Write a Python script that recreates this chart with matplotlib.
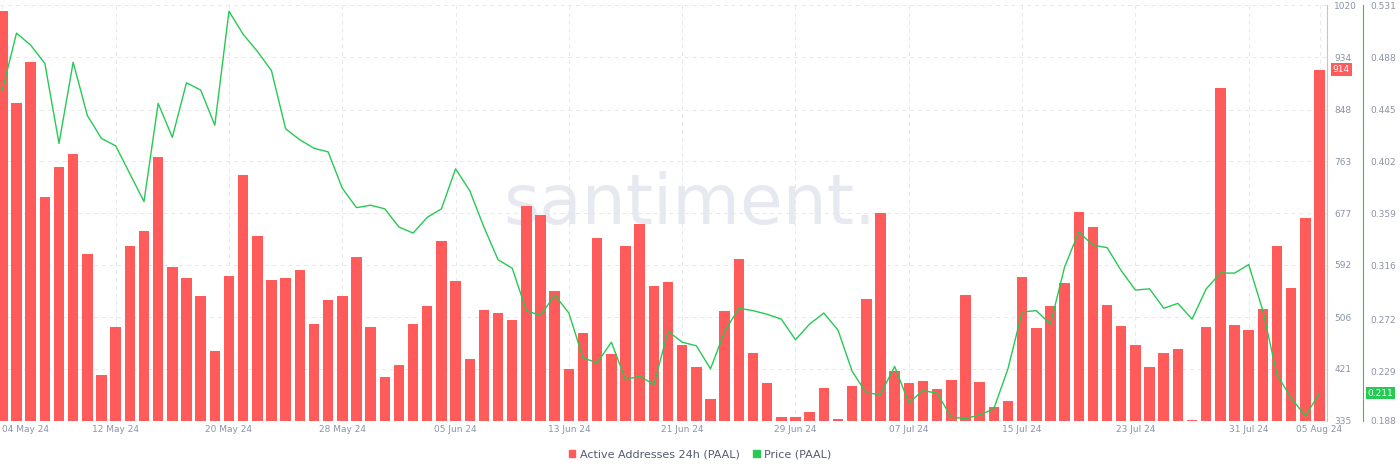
import pandas as pd
import matplotlib
matplotlib.use("Agg")
import matplotlib.pyplot as plt
import matplotlib.dates as mdates
from matplotlib.patches import Patch

dates = pd.date_range("2024-05-04", "2024-08-05", freq="D")

active_addresses = [
    1010, 859, 926, 704, 753, 775, 610, 411, 490, 623, 648, 770, 589, 571, 541, 451,
    574, 741, 640, 567, 571, 584, 495, 534, 541, 605, 489, 408, 428, 495, 524, 631,
    566, 437, 518, 513, 502, 689, 674, 549, 420, 480, 636, 445, 623, 659, 557, 564,
    460, 424, 371, 516, 602, 447, 398, 341, 341, 350, 390, 338, 393, 536, 678, 418,
    398, 401, 388, 403, 542, 399, 358, 368, 572, 488, 524, 562, 679, 654, 526, 491,
    460, 424, 447, 453, 337, 490, 883, 493, 485, 519, 623, 554, 669, 914,
]

price = [
    0.461, 0.508, 0.498, 0.483, 0.417, 0.484, 0.440, 0.421, 0.415, 0.392, 0.369, 0.450,
    0.422, 0.467, 0.461, 0.432, 0.526, 0.507, 0.493, 0.477, 0.429, 0.420, 0.413, 0.410,
    0.380, 0.364, 0.366, 0.363, 0.348, 0.343, 0.356, 0.363, 0.396, 0.378, 0.348, 0.321,
    0.314, 0.279, 0.275, 0.292, 0.277, 0.240, 0.236, 0.253, 0.222, 0.225, 0.218, 0.262,
    0.253, 0.250, 0.231, 0.262, 0.281, 0.279, 0.276, 0.272, 0.255, 0.268, 0.277, 0.263,
    0.229, 0.211, 0.210, 0.233, 0.203, 0.213, 0.211, 0.191, 0.190, 0.193, 0.198, 0.231,
    0.278, 0.279, 0.268, 0.315, 0.344, 0.333, 0.331, 0.312, 0.296, 0.297, 0.281, 0.285,
    0.272, 0.297, 0.310, 0.310, 0.317, 0.279, 0.226, 0.207, 0.192, 0.211,
]

tick_dates = pd.to_datetime(["2024-05-04", "2024-05-12", "2024-05-20", "2024-05-28",
                             "2024-06-05", "2024-06-13", "2024-06-21", "2024-06-29",
                             "2024-07-07", "2024-07-15", "2024-07-23", "2024-07-31",
                             "2024-08-05"])
aa_ticks = [335, 421, 506, 592, 677, 763, 848, 934, 1020]
price_ticks = [0.188, 0.229, 0.272, 0.316, 0.359, 0.402, 0.445, 0.488, 0.531]

RED = "#ff5b5b"
GREEN = "#26c953"
LABEL = "#8a93a6"

fig = plt.figure(figsize=(14, 4.73), dpi=100)
ax = fig.add_axes([0.0, 0.11, 0.948, 0.879])
ax2 = ax.twinx()

ax.bar(dates, active_addresses, width=0.74, color=RED, zorder=2,
       label="Active Addresses 24h (PAAL)")
ax2.plot(dates, price, color=GREEN, lw=1.0, zorder=3, label="Price (PAAL)")

ax.set_xlim(dates[0] - pd.Timedelta(hours=4), dates[-1] + pd.Timedelta(hours=13))
ax.set_ylim(335, 1020)
ax2.set_ylim(0.188, 0.531)

ax.set_xticks(tick_dates)
ax.xaxis.set_major_formatter(mdates.DateFormatter("%d %b %y"))
ax.tick_params(axis="x", length=0, labelsize=6.5, labelcolor=LABEL, pad=3)
first = ax.get_xticklabels()[0]
first.set_ha("left")

ax.yaxis.tick_right()
ax.set_yticks(aa_ticks)
ax.tick_params(axis="y", length=0, labelsize=6.5, labelcolor=LABEL, pad=5)
ax2.set_yticks(price_ticks)
ax2.set_yticklabels([f"{t:.3f}" for t in price_ticks])
ax2.tick_params(axis="y", length=0, labelsize=6.5, labelcolor=LABEL, pad=5)
ax2.spines["right"].set_position(("outward", 26))

for s in ["top", "left", "bottom"]:
    ax.spines[s].set_visible(False)
    ax2.spines[s].set_visible(False)
ax.spines["right"].set_color("#f7b0b0")
ax2.spines["right"].set_color(GREEN)

ax.grid(True, color="#e6e8ee", ls=(0, (4, 4)), lw=0.7, zorder=0)
ax.set_axisbelow(True)

ax.text(0.52, 0.52, "santiment.", transform=ax.transAxes, ha="center", va="center",
        fontsize=50, color="#e1e4ee", alpha=0.8, zorder=1)

ax.annotate(f"{active_addresses[-1]}", xy=(1.0, active_addresses[-1]),
            xycoords=("axes fraction", "data"), xytext=(4, 0), textcoords="offset points",
            va="center", ha="left", fontsize=6.5, color="white",
            bbox=dict(boxstyle="square,pad=0.2", fc=RED, ec="none"))
ax2.annotate(f"{price[-1]:.3f}", xy=(1.0, price[-1]), xycoords=("axes fraction", "data"),
             xytext=(29, 0), textcoords="offset points", va="center", ha="left",
             fontsize=6.5, color="white",
             bbox=dict(boxstyle="square,pad=0.2", fc=GREEN, ec="none"))

labels = ["Active Addresses 24h (PAAL)", "Price (PAAL)"]
handles = [Patch(color=RED), Patch(color=GREEN)]
fig.legend(handles, labels, loc="center", bbox_to_anchor=(0.5, 0.04), ncol=2,
           frameon=False, fontsize=8, handlelength=0.6, handleheight=0.6,
           columnspacing=1.2, handletextpad=0.4, labelcolor="#555b6e")

fig.savefig("out.png", dpi=100)
